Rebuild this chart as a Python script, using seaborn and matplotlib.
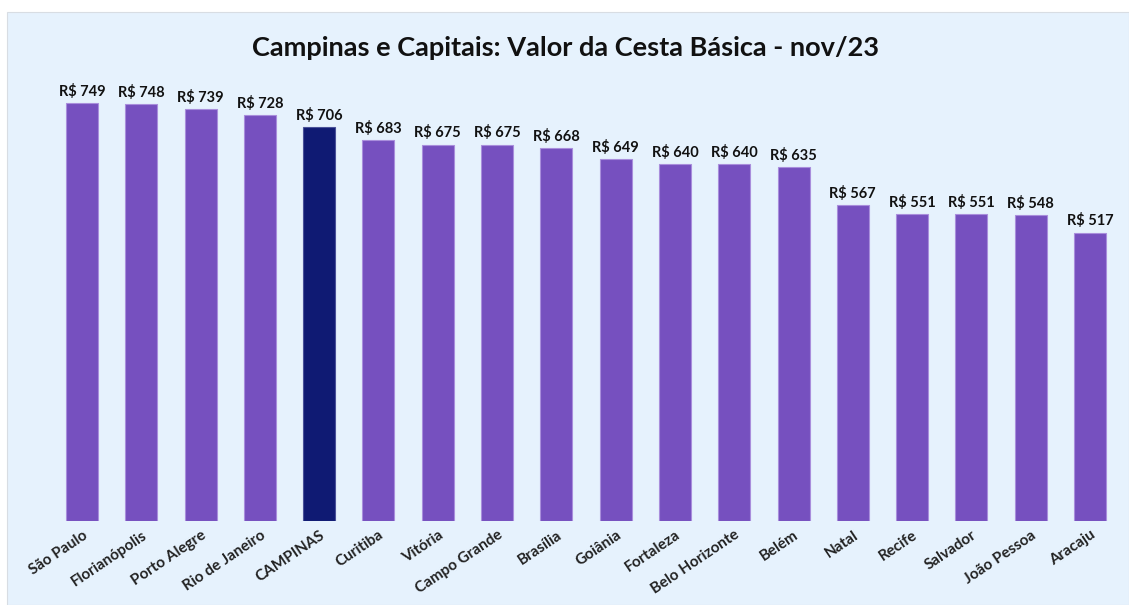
import matplotlib
matplotlib.use("Agg")
import matplotlib.pyplot as plt
import seaborn as sns
import pandas as pd
from matplotlib.patches import Rectangle

cidades = ["São Paulo", "Florianópolis", "Porto Alegre", "Rio de Janeiro", "CAMPINAS",
           "Curitiba", "Vitória", "Campo Grande", "Brasília", "Goiânia", "Fortaleza",
           "Belo Horizonte", "Belém", "Natal", "Recife", "Salvador", "João Pessoa", "Aracaju"]
valores = [749, 748, 739, 728, 706, 683, 675, 675, 668, 649, 640, 640, 635, 567, 551, 551, 548, 517]

roxo = "#7650BF"
azul_escuro = "#0F1A73"
fundo = "#E6F2FD"

df = pd.DataFrame({"Cidade": cidades, "Valor": valores})
cores = [azul_escuro if c == "CAMPINAS" else roxo for c in cidades]

sns.set_theme(style="white")
plt.rcParams["font.family"] = ["Lato", "DejaVu Sans"]

fig = plt.figure(figsize=(11.29, 6.05), dpi=100, facecolor="white")
# painel de fundo azul claro
fig.patches.append(Rectangle((7 / 1129, 0), 1 - 7 / 1129, 1 - 12 / 605,
                             transform=fig.transFigure, facecolor=fundo,
                             edgecolor="#D8DDE3", linewidth=0.8, zorder=-10))

ax = fig.add_axes([52.4 / 1129, 84 / 605, (1119.6 - 52.4) / 1129, 0.7375])
ax.set_facecolor("none")
ax.set_zorder(1)

sns.barplot(data=df, x="Cidade", y="Valor", hue="Cidade", palette=cores,
            saturation=1, legend=False, width=0.54, ax=ax,
            edgecolor="#A98EDC", linewidth=0.8)
for p, c in zip(ax.patches, cores):
    if c == azul_escuro:
        p.set_edgecolor("#4A5299")

ax.set_ylim(0, 800)
ax.set_xlim(-0.5, len(cidades) - 0.5)

for i, v in enumerate(valores):
    ax.annotate(f"R$ {v}", (i, v), xytext=(0, 3), textcoords="offset points",
                ha="center", va="bottom", fontsize=10.5, fontweight="bold", color="#111111")

ax.set_xticks(range(len(cidades)))
ax.set_xticklabels(cidades, rotation=34, ha="right", rotation_mode="anchor",
                   fontsize=11, fontweight="bold", color="#222222")
ax.tick_params(axis="x", length=0, pad=5)
ax.set_yticks([])
ax.set_xlabel("")
ax.set_ylabel("")
for s in ax.spines.values():
    s.set_visible(False)

fig.text(565 / 1129, 1 - 48 / 605, "Campinas e Capitais: Valor da Cesta Básica - nov/23",
         ha="center", va="center", fontsize=19.5, fontweight="bold", color="#111111")

fig.savefig("out.png", dpi=100, facecolor="white")
